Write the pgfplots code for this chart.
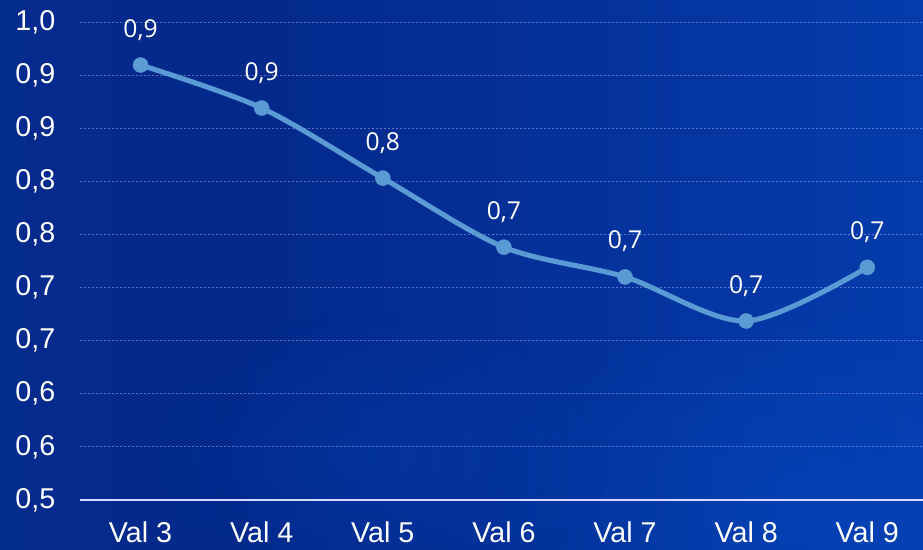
\documentclass[border=0pt]{standalone}
\usepackage{pgfplots}
\pgfplotsset{compat=1.18}
\usepackage{pgfplotstable}
\usetikzlibrary{fadings}
\usepackage{fontspec}
\setmainfont{Liberation Sans}
\newfontfamily\valuefont{Open Sans}

\definecolor{bgA}{HTML}{0B3EA4}
\definecolor{bgB}{HTML}{062E93}
\definecolor{bgC}{HTML}{03288A}
\definecolor{bgD}{HTML}{0538A6}
\definecolor{bgE}{HTML}{0846BF}
\definecolor{seriesblue}{HTML}{5B9BD5}

\pgfdeclarehorizontalshading{backdrop}{100bp}{%
  color(0bp)=(bgA); color(10bp)=(bgB); color(38bp)=(bgC);
  color(68bp)=(bgD); color(100bp)=(bgE)}

\tikzfading[name=softglow, inner color=transparent!0, outer color=transparent!100]

\pgfplotstableread{
x  y       lab
0  0.9095  0,9
1  0.869   0,9
2  0.803   0,8
3  0.738   0,7
4  0.710   0,7
5  0.6685  0,7
6  0.719   0,7
}\series

\begin{document}
\begin{tikzpicture}
\useasboundingbox (0,0) rectangle (692.25pt,411.75pt);
\shade[shading=backdrop] (0,0) rectangle (692.25pt,411.75pt);
% soft lighter glows
\begin{scope}
\clip (0,0) rectangle (692.25pt,411.75pt);
\fill[blue!55!cyan, opacity=0.16, path fading=softglow]
  (600pt,30pt) ellipse (240pt and 150pt);
\fill[blue!55!cyan, opacity=0.10, path fading=softglow]
  (280pt,70pt) ellipse (180pt and 110pt);
\end{scope}
\begin{axis}[
  at={(60pt,36.75pt)}, anchor=south west,
  scale only axis, width=632.25pt, height=358.5pt,
  xmin=-0.5, xmax=6.46, ymin=0.5, ymax=0.95,
  clip=false,
  axis x line*=bottom, axis y line*=left,
  y axis line style={draw=none},
  x axis line style={draw=white!85!blue, line width=1.5pt, -},
  major tick length=0pt,
  xtick={0,...,6},
  xticklabels={Val 3,Val 4,Val 5,Val 6,Val 7,Val 8,Val 9},
  ytick={0.5,0.55,0.6,0.65,0.7,0.75,0.8,0.85,0.9,0.95},
  yticklabels={{0,5},{0,6},{0,6},{0,7},{0,7},{0,8},{0,8},{0,9},{0,9},{1,0}},
  tick label style={white, font=\fontsize{21.5}{24}\selectfont},
  yticklabel style={xshift=-15pt},
  xticklabel style={yshift=-13pt},
  ymajorgrids,
  grid style={dash pattern=on 1.5pt off 1.5pt, white!70!blue, opacity=0.5, line width=0.7pt},
  nodes near coords,
  point meta=explicit symbolic,
  every node near coord/.style={anchor=base, yshift=21pt, white,
    font=\valuefont\fontsize{18.5}{20}\selectfont},
]
\addplot[seriesblue, line width=3.8pt, smooth, mark=*, mark size=5.6pt,
  mark options={fill=seriesblue, draw=seriesblue, line width=0.4pt}]
  table[x=x, y=y, meta=lab] {\series};
\end{axis}
\end{tikzpicture}
\end{document}
